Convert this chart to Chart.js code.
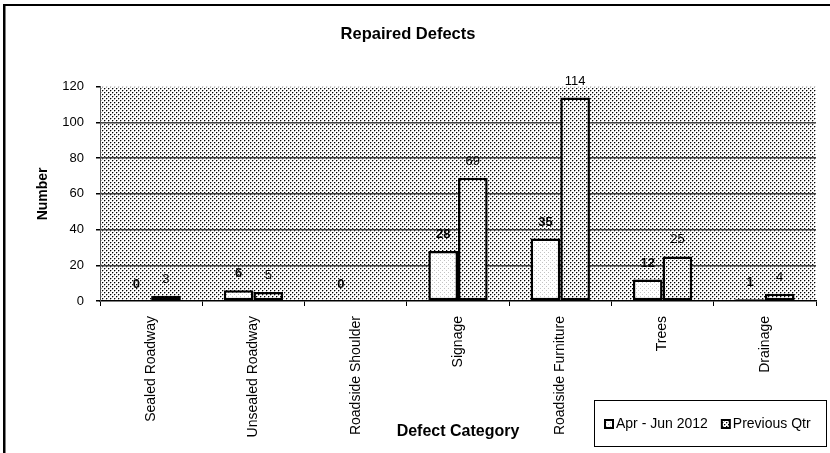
<!DOCTYPE html>
<html>
<head>
<meta charset="utf-8">
<style>
  html, body { margin: 0; padding: 0; background: #fff; }
  #wrap { width: 830px; height: 453px; }
</style>
<script src="https://cdn.jsdelivr.net/npm/chart.js@4/dist/chart.umd.min.js"></script>
</head>
<body>
<div id="wrap"><canvas id="c" width="830" height="453"></canvas></div>
<script>
// Repaired defects by category, this quarter vs the previous one
const categories = ['Sealed Roadway', 'Unsealed Roadway', 'Roadside Shoulder', 'Signage', 'Roadside Furniture', 'Trees', 'Drainage'];
const currentQtr = [0, 6, 0, 28, 35, 12, 1];
const previousQtr = [3, 5, null, 69, 114, 25, 4];
const seriesNames = ['Apr - Jun 2012', 'Previous Qtr'];
const yTicks = [0, 20, 40, 60, 80, 100, 120];

const FONT = '"Liberation Sans", Arial, Helvetica, sans-serif';
const canvas = document.getElementById('c');
const ctx0 = canvas.getContext('2d');

// Small repeating bitmap fills (dotted hatch like a spreadsheet pattern fill)
function makePattern(rows, palette) {
  const t = document.createElement('canvas');
  t.width = rows[0].length;
  t.height = rows.length;
  const g = t.getContext('2d');
  rows.forEach((r, y) => [...r].forEach((ch, x) => {
    g.fillStyle = palette[ch];
    g.fillRect(x, y, 1, 1);
  }));
  return ctx0.createPattern(t, 'repeat');
}
const pal = { K: '#000000', D: '#b0b0b0', G: '#c4c4c4', W: '#ffffff' };
const darkDots = makePattern(['KDWW', 'DWWW', 'WWKD', 'WWDW'], pal);
const lightDots = makePattern(['GWWW', 'WWWW', 'WWGW', 'WWWW'], pal);

// Plot-area fill drawn under the grid
const plotFill = {
  id: 'plotFill',
  beforeDraw(chart) {
    const { ctx, chartArea: a } = chart;
    ctx.save();
    ctx.fillStyle = darkDots;
    ctx.fillRect(a.left, a.top, a.right - a.left, a.bottom - a.top);
    ctx.restore();
  }
};

// Figure frame (left and top edges)
const frame = {
  id: 'frame',
  afterDraw(chart) {
    const ctx = chart.ctx;
    ctx.save();
    ctx.fillStyle = '#000';
    ctx.fillRect(3, 4, 2.5, 449);
    ctx.fillRect(3, 4, 827, 2);
    ctx.restore();
  }
};

// Value labels above each bar
const labelFonts = ['bold 13px ' + FONT, '13px ' + FONT];
const valueLabels = {
  id: 'valueLabels',
  afterDatasetsDraw(chart) {
    const ctx = chart.ctx;
    chart.data.datasets.forEach((ds, i) => {
      const meta = chart.getDatasetMeta(i);
      ctx.save();
      ctx.font = labelFonts[i];
      ctx.fillStyle = '#000';
      ctx.textAlign = 'center';
      ctx.textBaseline = 'middle';
      meta.data.forEach((bar, j) => {
        const v = ds.data[j];
        if (v === null || v === undefined) return;
        ctx.fillText(String(v), bar.x, bar.y - 16.5);
      });
      ctx.restore();
    });
  }
};

// Boxed legend in the lower right corner
const boxedLegend = {
  id: 'boxedLegend',
  afterDraw(chart) {
    const ctx = chart.ctx;
    const box = { x: 594.5, y: 400.5, w: 232, h: 46 };
    ctx.save();
    ctx.fillStyle = '#fff';
    ctx.fillRect(box.x, box.y, box.w, box.h);
    ctx.strokeStyle = '#000';
    ctx.lineWidth = 1;
    ctx.strokeRect(box.x, box.y, box.w, box.h);
    ctx.font = '14px ' + FONT;
    ctx.textBaseline = 'middle';
    ctx.textAlign = 'left';
    const cy = 424;
    let x = 605;
    chart.data.datasets.forEach((ds) => {
      ctx.fillStyle = ds.backgroundColor;
      ctx.fillRect(x, cy - 4, 8, 8);
      ctx.strokeStyle = '#000';
      ctx.lineWidth = 2;
      ctx.strokeRect(x, cy - 4, 8, 8);
      ctx.fillStyle = '#000';
      ctx.fillText(ds.label, x + 11, cy);
      x += 11 + ctx.measureText(ds.label).width + 14;
    });
    ctx.restore();
  }
};

new Chart(canvas, {
  type: 'bar',
  data: {
    labels: categories,
    datasets: [
      { label: seriesNames[0], data: currentQtr, backgroundColor: lightDots, borderColor: '#000', borderWidth: 2.5, borderSkipped: false },
      { label: seriesNames[1], data: previousQtr, backgroundColor: darkDots, borderColor: '#000', borderWidth: 2.5, borderSkipped: false }
    ]
  },
  options: {
    responsive: false,
    animation: false,
    devicePixelRatio: 1,
    datasets: { bar: { categoryPercentage: 0.58, barPercentage: 1.0 } },
    layout: { padding: { left: 0, right: 14, top: 0, bottom: 0 } },
    plugins: {
      legend: { display: false },
      tooltip: { enabled: false },
      title: {
        display: true,
        text: 'Repaired Defects',
        color: '#000',
        font: { family: FONT, size: 16.5, weight: 'bold' },
        padding: { top: 25, bottom: 42 }
      }
    },
    scales: {
      x: {
        grid: { drawOnChartArea: false, drawTicks: true, tickLength: 5, color: '#000', offset: true },
        border: { display: true, color: '#000', width: 1.5 },
        ticks: {
          color: '#000',
          font: { family: FONT, size: 14 },
          minRotation: 90,
          maxRotation: 90,
          padding: 10,
          autoSkip: false
        },
        title: {
          display: true,
          text: 'Defect Category',
          color: '#000',
          font: { family: FONT, size: 16, weight: 'bold' },
          padding: { top: 0, bottom: 12 }
        },
        afterFit(s) { s.height = 152; }
      },
      y: {
        min: yTicks[0],
        max: yTicks[yTicks.length - 1],
        afterBuildTicks(s) { s.ticks = yTicks.map(v => ({ value: v })); },
        grid: {
          drawTicks: true,
          tickLength: 4,
          lineWidth: 1.5,
          color: (c) => (c.tick && (c.tick.value === 0 || c.tick.value === 120)) ? 'rgba(0,0,0,0)' : '#444',
          tickColor: '#000'
        },
        border: { display: true, color: '#555', width: 1 },
        ticks: {
          color: '#000',
          font: { family: FONT, size: 13 },
          padding: 12
        },
        title: {
          display: true,
          text: 'Number',
          color: '#000',
          font: { family: FONT, size: 14, weight: 'bold' },
          padding: { top: 35, bottom: 0 }
        },
        afterFit(s) { s.width = 100; }
      }
    }
  },
  plugins: [plotFill, valueLabels, boxedLegend, frame]
});
</script>
</body>
</html>
